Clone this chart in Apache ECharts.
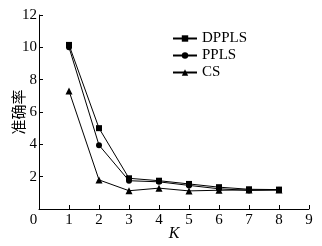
<!DOCTYPE html>
<html>
<head>
<meta charset="utf-8">
<script src="https://cdn.jsdelivr.net/npm/echarts@6/dist/echarts.min.js"></script>
<style>
  html, body { margin: 0; padding: 0; background: #fff; }
  #chart { width: 322px; height: 246px; }
</style>
</head>
<body>
<div id="chart"></div>
<script>
const kValues = [1, 2, 3, 4, 5, 6, 7, 8]
const dpplsValues = [10.15, 5.0, 1.9, 1.75, 1.55, 1.35, 1.22, 1.2]
const pplsValues = [10.0, 3.95, 1.75, 1.68, 1.46, 1.25, 1.15, 1.18]
const csValues = [7.3, 1.8, 1.13, 1.29, 1.12, 1.16, 1.18, 1.18]

const seriesList = [
  { name: 'DPPLS', symbol: 'rect', size: 6, values: dpplsValues },
  { name: 'PPLS', symbol: 'circle', size: 6, values: pplsValues },
  { name: 'CS', symbol: 'triangle', size: 7, values: csValues }
]

const fontFamily = '"Liberation Serif", "DejaVu Serif", serif'

const myChart = echarts.init(document.getElementById('chart'))
const option = {
  animation: false,
  backgroundColor: '#fff',
  legend: {
    orient: 'vertical',
    left: 167,
    top: 26,
    itemWidth: 24,
    itemHeight: 8,
    itemGap: 2,
    textStyle: {
      color: '#000',
      fontFamily: fontFamily,
      fontSize: 15,
      lineHeight: 14
    },
    data: seriesList.map(s => s.name)
  },
  grid: {
    left: 39,
    right: 13,
    top: 15,
    bottom: 37,
    containLabel: false,
    outerBoundsMode: 'none'
  },
  xAxis: {
    type: 'value',
    min: 0,
    max: 9,
    interval: 1,
    name: 'K',
    nameLocation: 'middle',
    nameGap: 17,
    nameMoveOverlap: false,
    nameTextStyle: {
      color: '#000',
      fontFamily: fontFamily,
      fontStyle: 'italic',
      fontSize: 16
    },
    axisLine: { show: true, lineStyle: { color: '#000', width: 1 } },
    axisTick: { show: true, inside: true, length: 4, lineStyle: { color: '#000' } },
    axisLabel: {
      color: '#000',
      fontFamily: fontFamily,
      fontSize: 15,
      margin: 4,
      formatter: (v) => v === 0 ? '0   ' : String(v)
    },
    splitLine: { show: false }
  },
  yAxis: {
    type: 'value',
    min: 0,
    max: 12,
    interval: 2,
    name: '准确率',
    nameLocation: 'middle',
    nameRotate: 90,
    nameGap: 13,
    nameMoveOverlap: false,
    nameTextStyle: {
      color: '#000',
      fontFamily: '"Noto Sans CJK SC", sans-serif',
      fontSize: 15
    },
    axisLine: { show: true, lineStyle: { color: '#000', width: 1 } },
    axisTick: { show: true, inside: true, length: 4, lineStyle: { color: '#000' } },
    axisLabel: {
      color: '#000',
      fontFamily: fontFamily,
      fontSize: 15,
      margin: 2,
      showMinLabel: false
    },
    splitLine: { show: false }
  },
  series: seriesList.map(s => ({
    name: s.name,
    type: 'line',
    data: kValues.map((k, i) => [k, s.values[i]]),
    symbol: s.symbol,
    symbolSize: s.size,
    itemStyle: { color: '#000' },
    lineStyle: { color: '#000', width: 1 }
  }))
}
myChart.setOption(option)
</script>
</body>
</html>
